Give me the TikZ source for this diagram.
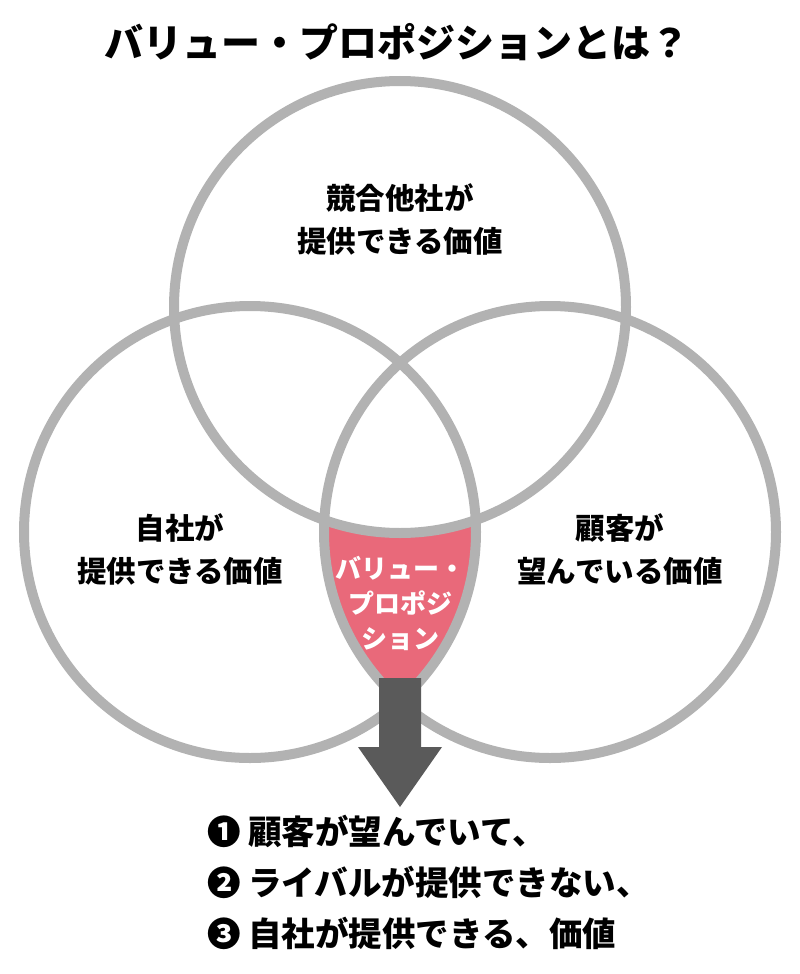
\documentclass[tikz,border=0pt]{standalone}
\usepackage{fontspec}
\setmainfont{Noto Sans CJK JP}
\usetikzlibrary{positioning}
\definecolor{ringgray}{HTML}{B2B2B2}
\definecolor{vppink}{HTML}{E9697A}
\definecolor{arrowgray}{HTML}{5A5A5A}
\tikzstyle{ring} = [draw=ringgray, line width=10pt]
\tikzstyle{lbl} = [draw=none, align=center, inner sep=0, font=\fontsize{29.5}{43}\selectfont\bfseries]
\tikzstyle{item} = [draw=none, anchor=west, inner sep=0, font=\fontsize{33.5}{40}\selectfont\bfseries]

\begin{document}
\begin{tikzpicture}[x=1pt, y=-1pt]
\useasboundingbox (0,0) rectangle (800,974);
\node [draw=none, inner sep=0, font=\fontsize{39}{47}\selectfont\bfseries] (T) at (397, 42) {バリュー・プロポジションとは？};
% inside both lower circles, outside the top one
\begin{scope}
\clip (250,532) circle [radius=226pt];
\clip (550,532) circle [radius=226pt];
\fill [vppink, even odd rule] (0,0) rectangle (800,974) (400,307) circle [radius=226pt];
\end{scope}
\draw [ring] (400,307) circle [radius=226pt];
\draw [ring] (250,532) circle [radius=226pt];
\draw [ring] (550,532) circle [radius=226pt];
\node [lbl] (R) at (400, 219) {競合他社が\\提供できる価値};
\node [lbl] (S) at (180, 549) {自社が\\提供できる価値};
\node [lbl] (C) at (620, 549) {顧客が\\望んでいる価値};
\node [lbl, text=white, font=\fontsize{26}{35}\selectfont\bfseries] (V) at (400, 603) {バリュー・\\プロポジ\\ション};
% block arrow
\fill [arrowgray] (379,678) -- (421,678) -- (421,747) -- (442,747) -- (400,807)
  -- (358,747) -- (379,747) -- cycle;
\node [item] (L1) at (207, 831) {❶ 顧客が望んでいて、};
\node [item] (L2) at (207, 882) {❷ ライバルが提供できない、};
\node [item] (L3) at (207, 933) {❸ 自社が提供できる、価値};
\end{tikzpicture}
\end{document}
